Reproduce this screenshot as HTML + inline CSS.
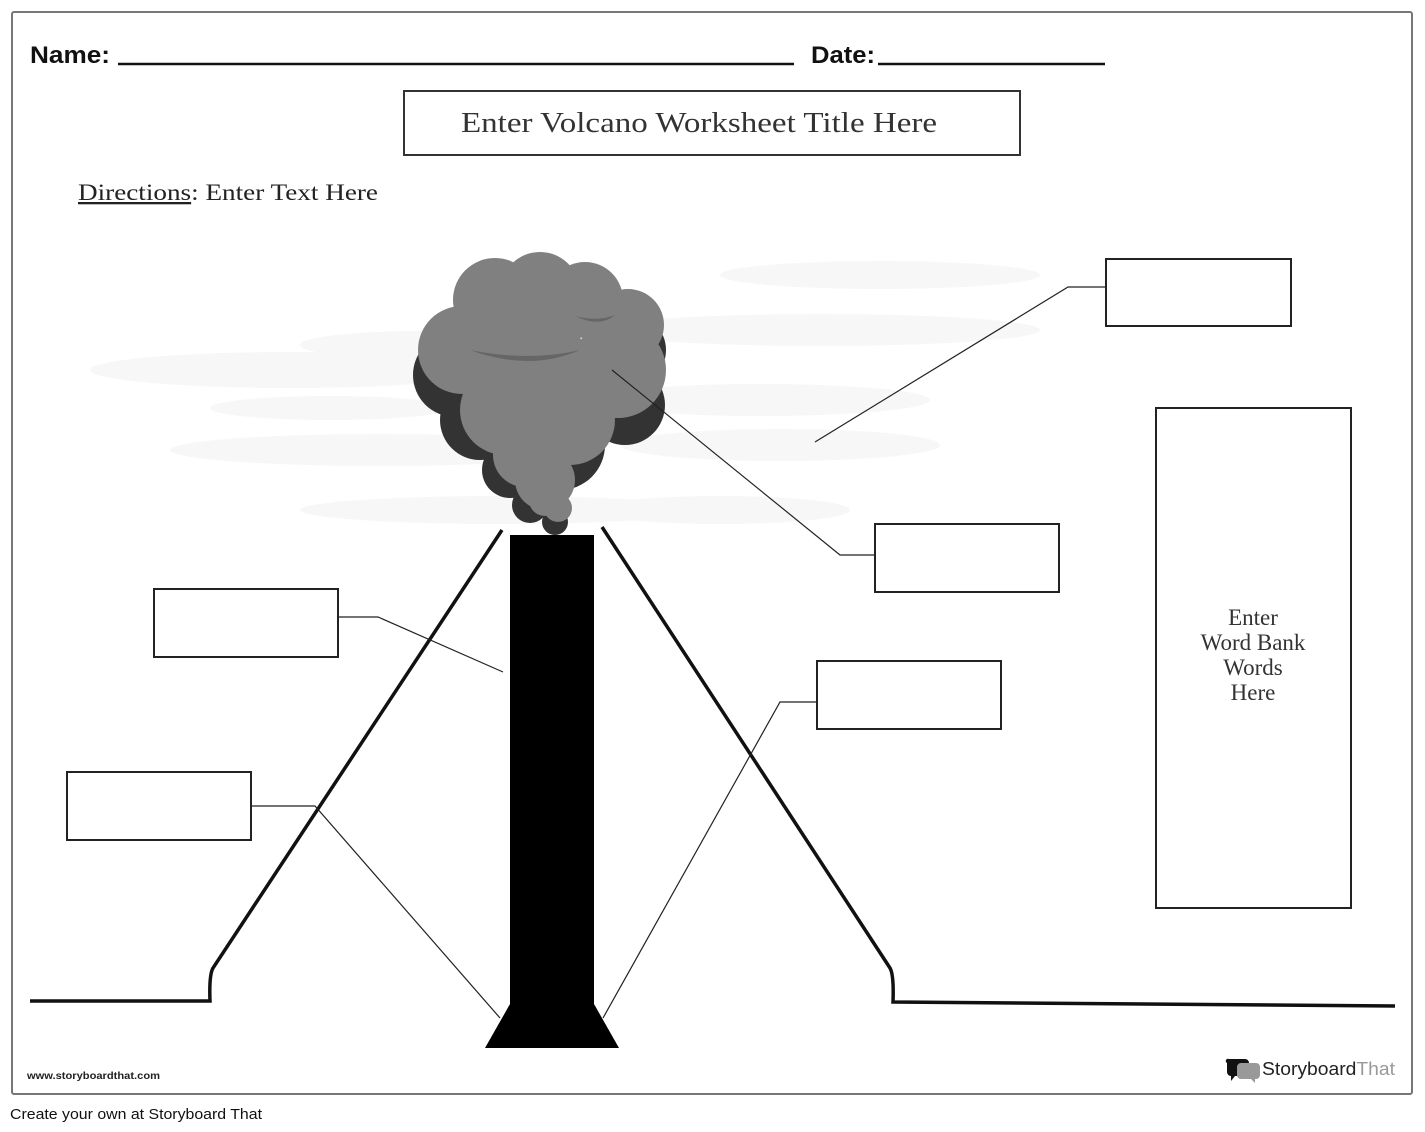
<!DOCTYPE html>
<html><head><meta charset="utf-8"><style>
html,body{margin:0;padding:0;background:#fff;}
svg{display:block;}
</style></head><body>
<svg width="1425" height="1132" viewBox="0 0 1425 1132" xmlns="http://www.w3.org/2000/svg">
<rect x="0" y="0" width="1425" height="1132" fill="#fff"/>
<rect x="12" y="12" width="1400" height="1082" fill="#fff" stroke="#777" stroke-width="2" rx="2"/>
<!-- header -->
<text x="30" y="63" font-family="Liberation Sans, sans-serif" font-weight="bold" font-size="24" fill="#111" textLength="80" lengthAdjust="spacingAndGlyphs">Name:</text>
<line x1="118" y1="64" x2="794" y2="64" stroke="#111" stroke-width="2.5"/>
<text x="811" y="63" font-family="Liberation Sans, sans-serif" font-weight="bold" font-size="24" fill="#111" textLength="64" lengthAdjust="spacingAndGlyphs">Date:</text>
<line x1="878" y1="64" x2="1105" y2="64" stroke="#111" stroke-width="2.5"/>
<rect x="404" y="91" width="616" height="64" fill="#fff" stroke="#333" stroke-width="2"/>
<text x="461" y="132" font-family="Liberation Serif, serif" font-size="29" fill="#333" textLength="476" lengthAdjust="spacingAndGlyphs">Enter Volcano Worksheet Title Here</text>
<text x="78" y="200" font-family="Liberation Serif, serif" font-size="23" fill="#222" textLength="300" lengthAdjust="spacingAndGlyphs"><tspan text-decoration="underline">Directions</tspan>: Enter Text Here</text>
<!-- haze -->
<g fill="#f7f7f7">
<ellipse cx="290" cy="370" rx="200" ry="18"/>
<ellipse cx="420" cy="345" rx="120" ry="14"/>
<ellipse cx="330" cy="408" rx="120" ry="12"/>
<ellipse cx="380" cy="450" rx="210" ry="16"/>
<ellipse cx="500" cy="510" rx="200" ry="14"/>
<ellipse cx="720" cy="510" rx="130" ry="14"/>
<ellipse cx="880" cy="275" rx="160" ry="14"/>
<ellipse cx="820" cy="330" rx="220" ry="16"/>
<ellipse cx="760" cy="400" rx="170" ry="16"/>
<ellipse cx="780" cy="445" rx="160" ry="16"/>
</g>
<!-- cloud shadow -->
<g fill="#333">
<circle cx="555" cy="522" r="13"/>
<circle cx="530" cy="505" r="18"/>
<circle cx="510" cy="470" r="28"/>
<circle cx="480" cy="420" r="40"/>
<circle cx="455" cy="375" r="42"/>
<circle cx="625" cy="405" r="40"/>
<circle cx="630" cy="350" r="36"/>
<circle cx="560" cy="445" r="45"/>
</g>
<!-- cloud body -->
<g fill="#808080">
<circle cx="495" cy="300" r="42"/>
<circle cx="540" cy="292" r="40"/>
<circle cx="585" cy="300" r="38"/>
<circle cx="628" cy="325" r="36"/>
<circle cx="462" cy="350" r="44"/>
<circle cx="530" cy="360" r="55"/>
<circle cx="618" cy="370" r="48"/>
<circle cx="505" cy="410" r="45"/>
<circle cx="570" cy="420" r="45"/>
<circle cx="525" cy="455" r="32"/>
<circle cx="545" cy="480" r="30"/>
<circle cx="558" cy="508" r="14"/>
<circle cx="545" cy="500" r="16"/>
</g>
<path d="M470 350 Q530 372 580 350 Q530 362 470 350Z" fill="#666"/>
<path d="M575 316 Q600 328 615 315 Q598 322 575 316Z" fill="#666"/>
<!-- volcano -->
<path d="M502 530 L213 968 Q209 975 210 1001 L30 1001" fill="none" stroke="#111" stroke-width="3.5"/>
<path d="M602 527 L890 968 Q894 975 893 1002 L1395 1006" fill="none" stroke="#111" stroke-width="3.5"/>
<rect x="510" y="535" width="84" height="469" fill="#000"/>
<polygon points="510,1004 594,1004 619,1048 485,1048" fill="#000"/>
<!-- leader lines -->
<g fill="none" stroke="#222" stroke-width="1.2">
<polyline points="1106,287 1068,287 815,442"/>
<polyline points="875,555 840,555 612,370"/>
<polyline points="338,617 378,617 503,672"/>
<polyline points="251,806 315,806 500,1018"/>
<polyline points="817,702 780,702 603,1018"/>
</g>
<!-- boxes -->
<g fill="#fff" stroke="#222" stroke-width="2">
<rect x="1106" y="259" width="185" height="67"/>
<rect x="875" y="524" width="184" height="68"/>
<rect x="154" y="589" width="184" height="68"/>
<rect x="817" y="661" width="184" height="68"/>
<rect x="67" y="772" width="184" height="68"/>
<rect x="1156" y="408" width="195" height="500"/>
</g>
<g font-family="Liberation Serif, serif" font-size="23" fill="#333" text-anchor="middle">
<text x="1253" y="625">Enter</text>
<text x="1253" y="650">Word Bank</text>
<text x="1253" y="675">Words</text>
<text x="1253" y="700">Here</text>
</g>
<!-- footer -->
<text x="27" y="1079" font-family="Liberation Sans, sans-serif" font-weight="bold" font-size="10" fill="#222" textLength="133" lengthAdjust="spacingAndGlyphs">www.storyboardthat.com</text>
<path d="M1229 1059 h16 a4 4 0 0 1 4 4 v9 a4 4 0 0 1 -4 4 h-10 l-4 5 v-5 a4 4 0 0 1 -4 -4 v-9 a2 2 0 0 1 2 -4z" fill="#111"/>
<path d="M1241 1063 h15 a4 4 0 0 1 4 4 v8 a4 4 0 0 1 -4 4 h-1 v4 l-4 -4 h-10 a4 4 0 0 1 -4 -4 v-8 a4 4 0 0 1 4 -4z" fill="#999"/>
<text x="1262" y="1075" font-family="Liberation Sans, sans-serif" font-size="18" fill="#222" textLength="133" lengthAdjust="spacingAndGlyphs">Storyboard<tspan fill="#999">That</tspan></text>
<text x="10" y="1119" font-family="Liberation Sans, sans-serif" font-size="15" fill="#111" textLength="252" lengthAdjust="spacingAndGlyphs">Create your own at Storyboard That</text>
</svg>
</body></html>
